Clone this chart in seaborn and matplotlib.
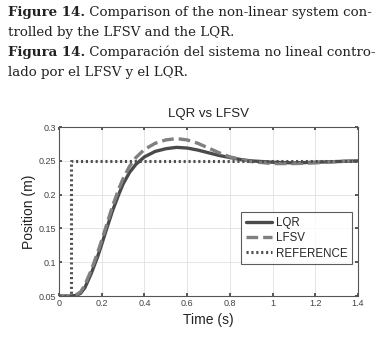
import numpy as np
import pandas as pd
import matplotlib
matplotlib.use('Agg')
import matplotlib.pyplot as plt
import seaborn as sns

# data
t_sys = [0, 0.05, 0.08, 0.10, 0.12, 0.15, 0.18, 0.20, 0.22, 0.25, 0.28, 0.30, 0.33, 0.36,
         0.40, 0.45, 0.50, 0.55, 0.60, 0.65, 0.70, 0.75, 0.80, 0.85, 0.90, 1.0, 1.1, 1.2, 1.3, 1.4]
lqr = [0.05, 0.05, 0.051, 0.054, 0.062, 0.083, 0.108, 0.127, 0.147, 0.176, 0.201, 0.216, 0.233, 0.245,
       0.256, 0.264, 0.268, 0.270, 0.269, 0.266, 0.262, 0.258, 0.255, 0.252, 0.250, 0.248, 0.247, 0.248, 0.249, 0.250]
lfsv = [0.05, 0.05, 0.052, 0.056, 0.066, 0.088, 0.114, 0.133, 0.153, 0.183, 0.209, 0.224, 0.242, 0.255,
        0.267, 0.276, 0.281, 0.283, 0.281, 0.276, 0.269, 0.262, 0.256, 0.252, 0.249, 0.246, 0.246, 0.247, 0.249, 0.250]
t_ref = [0, 0.055, 0.055, 1.4]
ref = [0.05, 0.05, 0.25, 0.25]

x_ticks = [0, 0.2, 0.4, 0.6, 0.8, 1, 1.2, 1.4]
x_labels = ['0', '0.2', '0.4', '0.6', '0.8', '1', '1.2', '1.4']
y_ticks = [0.05, 0.1, 0.15, 0.2, 0.25, 0.3]
y_labels = ['0.05', '0.1', '0.15', '0.2', '0.25', '0.3']

df_sys = pd.DataFrame({'t': t_sys, 'LQR': lqr, 'LFSV': lfsv})
df_ref = pd.DataFrame({'t': t_ref, 'REFERENCE': ref})

sns.set_theme(style='whitegrid')
plt.rcParams['font.family'] = ['Liberation Sans', 'DejaVu Sans']

fig = plt.figure(figsize=(3.84, 3.38), dpi=100)
ax = fig.add_axes([0.154, 0.124, 0.778, 0.500])

sns.lineplot(data=df_sys, x='t', y='LQR', ax=ax, color='#4a4a4a', lw=2.4, label='LQR')
sns.lineplot(data=df_sys, x='t', y='LFSV', ax=ax, color='#808080', lw=2.4, ls=(0, (3.5, 1.5)), label='LFSV')
sns.lineplot(data=df_ref, x='t', y='REFERENCE', ax=ax, color='#505050', lw=2.2, ls=(0, (0.7, 0.9)),
             label='REFERENCE', sort=False, estimator=None)

ax.set_xlim(0, 1.4)
ax.set_ylim(0.05, 0.3)
ax.set_xticks(x_ticks)
ax.set_xticklabels(x_labels)
ax.set_yticks(y_ticks)
ax.set_yticklabels(y_labels)
ax.tick_params(direction='in', length=2.5, labelsize=6.5, colors='#444444', pad=2,
               top=True, right=True, bottom=True, left=True)
ax.grid(True, color='#e0e0e0', lw=0.6)
for s in ax.spines.values():
    s.set_color('#555555')
    s.set_linewidth(0.8)

ax.set_title('LQR vs LFSV', fontsize=9.5, color='#222222', pad=7)
ax.set_xlabel('Time (s)', fontsize=10, color='#222222', labelpad=4)
ax.set_ylabel('Position (m)', fontsize=10, color='#222222', labelpad=2)

leg = ax.legend(loc='lower right', bbox_to_anchor=(1.0, 0.155), fontsize=8.3, frameon=True,
                fancybox=False, handlelength=2.3, handletextpad=0.3, borderpad=0.4,
                labelspacing=0.3)
leg.get_frame().set_edgecolor('#333333')
leg.get_frame().set_linewidth(0.8)

# caption above the chart
serif = ['DejaVu Serif']
cap = [('Figure 14.', ' Comparison of the non-linear system con-'),
       ('', 'trolled by the LFSV and the LQR.'),
       ('Figura 14.', ' Comparación del sistema no lineal contro-'),
       ('', 'lado por el LFSV y el LQR.')]
renderer = fig.canvas.get_renderer()


def draw_caption(fs):
    texts = []
    right = 0
    y0 = 1 - 16 / 338
    for i, (b, n) in enumerate(cap):
        y = y0 - i * 20 / 338
        x = 8 / 384
        if b:
            tb = fig.text(x, y, b, fontsize=fs, fontweight='bold', family=serif,
                          color='#222222', va='baseline')
            texts.append(tb)
            x = tb.get_window_extent(renderer).x1 / fig.bbox.width
        tn = fig.text(x, y, n, fontsize=fs, family=serif, color='#222222', va='baseline')
        texts.append(tn)
        right = max(right, tn.get_window_extent(renderer).x1)
    return texts, right


# size the caption so its widest line ends where the reference's does
texts, right = draw_caption(10)
for t in texts:
    t.remove()
draw_caption(10 * (377 - 8) / (right - 8))

fig.savefig('out.png', dpi=100)
